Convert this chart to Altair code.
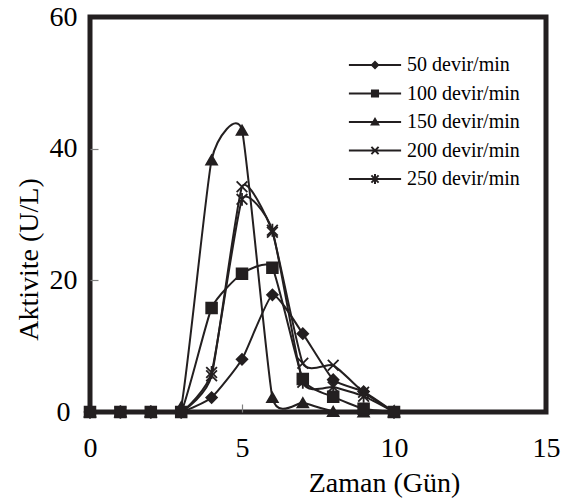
import altair as alt
import pandas as pd

# ---- data ----
days = [0, 1, 2, 3, 4, 5, 6, 7, 8, 9, 10]
series_names = ["50 devir/min", "100 devir/min", "150 devir/min", "200 devir/min", "250 devir/min"]
act_50 = [0, 0, 0, 0, 2.2, 8.0, 17.8, 11.9, 4.9, 3.1, 0]
act_100 = [0, 0, 0, 0, 15.8, 21.0, 21.9, 5.0, 2.3, 0.5, 0]
act_150 = [0, 0, 0, 0.8, 38.3, 42.8, 2.2, 1.4, 0.1, 0, 0]
act_200 = [0, 0, 0, 0, 5.5, 34.2, 27.3, 7.4, 7.1, 3.0, 0]
act_250 = [0, 0, 0, 0, 6.0, 32.3, 27.6, 4.5, 3.8, 2.4, 0]
x_ticks = [0, 5, 10, 15]
y_ticks = [0, 20, 40, 60]
x_inner_ticks = [5, 10]
y_inner_ticks = [20, 40]

all_series = [act_50, act_100, act_150, act_200, act_250]
draw_rank = {"50 devir/min": 1, "100 devir/min": 5, "150 devir/min": 2,
             "200 devir/min": 3, "250 devir/min": 4}

rows = []
for name, vals in zip(series_names, all_series):
    for d, v in zip(days, vals):
        rows.append({"gun": d, "aktivite": v, "seri": name, "z": draw_rank[name]})
df = pd.DataFrame(rows)

INK = "#231f20"
FONT = "Liberation Serif"

chart_shapes = [
    "diamond",
    "square",
    "triangle-up",
    "M-1,-1L1,1M-1,1L1,-1",
    "M-1,-1L1,1M-1,1L1,-1M0,-1.2L0,1.2",
]
# legend symbols: a short line with the marker on it, built from filled outlines
seg = "M-5.8,-0.22L5.8,-0.22L5.8,0.22L-5.8,0.22Z"
arm1 = "M-0.644,-0.956L0.956,0.644L0.644,0.956L-0.956,-0.644Z"
arm2 = "M-0.644,0.956L-0.956,0.644L0.644,-0.956L0.956,-0.644Z"
vbar = "M-0.22,-1.1L0.22,-1.1L0.22,1.1L-0.22,1.1Z"
legend_shapes = [
    seg + "M0,-1L1,0L0,1L-1,0Z",
    seg + "M-0.9,-0.9L0.9,-0.9L0.9,0.9L-0.9,0.9Z",
    seg + "M0,-1.1L1.1,0.8L-1.1,0.8Z",
    seg + arm1 + arm2,
    seg + arm1 + arm2 + vbar,
]

x_scale = alt.Scale(domain=[0, 15], nice=False)
y_scale = alt.Scale(domain=[0, 60], nice=False)

x_axis = alt.Axis(values=x_ticks, title="Zaman (Gün)", grid=False, domain=False, ticks=False,
                  tickSize=0, labelFont=FONT, labelFontSize=28, labelColor="black",
                  labelBaseline="alphabetic", labelPadding=44, labelFlush=False,
                  titleFont=FONT, titleFontSize=28, titleFontWeight="normal", titleColor="black",
                  titleX=294, titleY=79, titleBaseline="alphabetic", titleAlign="center")
y_axis = alt.Axis(values=y_ticks, title="Aktivite (U/L)", grid=False, domain=False, ticks=False,
                  tickSize=0, labelFont=FONT, labelFontSize=28, labelColor="black",
                  labelAlign="center", labelBaseline="middle", labelPadding=27, labelFlush=False,
                  titleFont=FONT, titleFontSize=28, titleFontWeight="normal", titleColor="black",
                  titleX=-53, titleY=242, titleAngle=270, titleBaseline="alphabetic",
                  titleAlign="center")

lines = alt.Chart(df).mark_line(interpolate="cardinal", tension=0.5, color=INK, strokeWidth=2,
                                clip=True).encode(
    x=alt.X("gun:Q", scale=x_scale, axis=x_axis),
    y=alt.Y("aktivite:Q", scale=y_scale, axis=y_axis),
    detail="seri:N",
)

x_tick_axis = alt.Axis(values=x_inner_ticks, orient="bottom", offset=-8, labels=False, title=None,
                       domain=False, grid=False, ticks=True, tickSize=8, tickColor="#808080",
                       tickWidth=1.2)
y_tick_axis = alt.Axis(values=y_inner_ticks, orient="left", offset=-8, labels=False, title=None,
                       domain=False, grid=False, ticks=True, tickSize=8, tickColor="#808080",
                       tickWidth=1.2)

points = alt.Chart(df).mark_point(filled=True, fill=INK, stroke=INK, strokeWidth=1.8,
                                  size=115, opacity=1).encode(
    x=alt.X("gun:Q", scale=x_scale, axis=x_tick_axis),
    y=alt.Y("aktivite:Q", scale=y_scale, axis=y_tick_axis),
    shape=alt.Shape("seri:N", scale=alt.Scale(domain=series_names, range=chart_shapes), legend=None),
    order=alt.Order("z:Q"),
)

legend_layer = alt.Chart(df).transform_filter("false").mark_point(
    filled=True, fill=INK, opacity=1).encode(
    x=alt.X("gun:Q", scale=x_scale, axis=None),
    y=alt.Y("aktivite:Q", scale=y_scale, axis=None),
    shape=alt.Shape("seri:N", scale=alt.Scale(domain=series_names, range=legend_shapes),
                    legend=alt.Legend(title=None, orient="none", legendX=275, legendY=38,
                                      symbolSize=81, symbolFillColor=INK, symbolOpacity=1,
                                      labelFont=FONT, labelFontSize=20, labelColor="black",
                                      labelOffset=22, rowPadding=8.5, padding=0)),
)

chart = alt.layer(lines, points, legend_layer).resolve_scale(
    shape="independent"
).resolve_axis(
    x="independent", y="independent"
).properties(
    width=456, height=395,
    background="white",
    autosize=alt.AutoSizeParams(type="none"),
    padding={"left": 90, "top": 17, "right": 21, "bottom": 86},
).configure_view(stroke=INK, strokeWidth=5)

chart.save("out.html", embed_options={"renderer": "svg", "actions": False})
